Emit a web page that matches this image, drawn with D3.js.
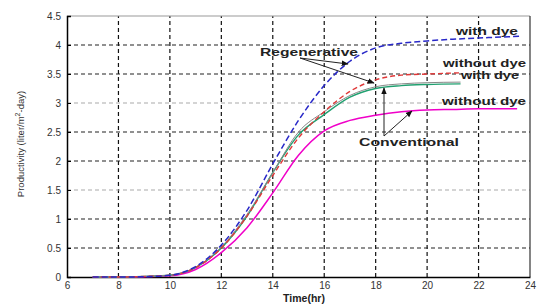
<!DOCTYPE html>
<html>
<head>
<meta charset="utf-8">
<script src="https://cdn.jsdelivr.net/npm/d3@7"></script>
<style>
  body { margin: 0; background: #fff; }
  svg text { font-family: "Liberation Sans", Arial, sans-serif; }
  .tick text { fill: #333; font-size: 10px; }
  .lbl { font-weight: bold; fill: #222; font-size: 11px; }
</style>
</head>
<body>
<div id="chart"></div>
<script>
// data
const xTicks = [6, 8, 10, 12, 14, 16, 18, 20, 22, 24]
const yTicks = [0, 0.5, 1, 1.5, 2, 2.5, 3, 3.5, 4, 4.5]

const regenDyeT = [7, 8, 9, 10, 11, 12, 13, 14, 15, 16, 17, 18, 19, 20, 21, 22, 23, 23.6]
const regenDye = [0, 0, 0.005, 0.03, 0.18, 0.55, 1.15, 1.95, 2.7, 3.3, 3.72, 3.95, 4.03, 4.07, 4.1, 4.12, 4.14, 4.15]

const regenNoDyeT = [7, 8, 9, 10, 11, 12, 13, 14, 15, 16, 17, 18, 19, 20, 21.3]
const regenNoDye = [0, 0, 0.01, 0.03, 0.16, 0.5, 1.05, 1.75, 2.4, 2.85, 3.2, 3.4, 3.48, 3.5, 3.52]

const convDyeT = [7, 8, 9, 10, 11, 12, 13, 14, 15, 16, 17, 18, 19, 20, 21.3]
const convDye = [0, 0, 0.01, 0.03, 0.16, 0.5, 1.05, 1.8, 2.45, 2.8, 3.1, 3.25, 3.3, 3.32, 3.33]
const convDyeGray = [0, 0, 0.01, 0.03, 0.17, 0.52, 1.08, 1.8, 2.5, 2.85, 3.13, 3.28, 3.33, 3.35, 3.36]

const convNoDyeT = [7, 8, 9, 10, 11, 12, 13, 14, 15, 16, 17, 18, 19, 20, 21, 22, 23, 23.5]
const convNoDye = [0, 0, 0.005, 0.02, 0.13, 0.42, 0.85, 1.45, 2.1, 2.52, 2.7, 2.79, 2.85, 2.88, 2.89, 2.9, 2.9, 2.9]

const W = 539, H = 304
const m = { left: 67, right: 9, top: 16, bottom: 27 }

const svg = d3.select('#chart').append('svg').attr('width', W).attr('height', H)

const x = d3.scaleLinear().domain([6, 24]).range([m.left, W - m.right])
const y = d3.scaleLinear().domain([0, 4.5]).range([H - m.bottom, m.top])

// grid
const grid = svg.append('g')
grid.selectAll('line.v').data(xTicks.slice(1, -1)).join('line')
  .attr('x1', d => x(d)).attr('x2', d => x(d))
  .attr('y1', y(0)).attr('y2', y(4.5))
  .attr('stroke', '#111').attr('stroke-width', 1.2).attr('stroke-dasharray', '4,3')
grid.selectAll('line.h').data(yTicks.slice(1, -1)).join('line')
  .attr('x1', x(6)).attr('x2', x(24))
  .attr('y1', d => y(d)).attr('y2', d => y(d))
  .attr('stroke', d => (d === 1.5 || d === 3) ? '#aaa' : '#222')
  .attr('stroke-width', 1.2).attr('stroke-dasharray', '4,3')

// frame
svg.append('line').attr('x1', x(6)).attr('x2', x(24)).attr('y1', y(4.5)).attr('y2', y(4.5))
  .attr('stroke', '#999').attr('stroke-width', 1.2)
svg.append('line').attr('x1', x(24)).attr('x2', x(24)).attr('y1', y(0)).attr('y2', y(4.5))
  .attr('stroke', '#333').attr('stroke-width', 1.2)

const xAxis = svg.append('g').attr('transform', `translate(0,${y(0)})`)
  .call(d3.axisBottom(x).tickValues(xTicks).tickSize(0).tickPadding(5).tickFormat(d3.format('d')))
const yAxis = svg.append('g').attr('transform', `translate(${x(6)},0)`)
  .call(d3.axisLeft(y).tickValues(yTicks).tickSize(-4).tickPadding(6).tickFormat(d => d))
xAxis.select('.domain').attr('stroke', '#000').attr('stroke-width', 1.5)
yAxis.select('.domain').attr('stroke', '#000').attr('stroke-width', 1.5)
yAxis.selectAll('.tick line').attr('stroke', '#000')

// curves
const line = d3.line().x(d => x(d[0])).y(d => y(d[1])).curve(d3.curveMonotoneX)
const series = [
  { t: convNoDyeT, v: convNoDye, color: '#f000c8', dash: null, w: 1.5 },
  { t: convDyeT, v: convDye, color: '#20a070', dash: null, w: 1.4 },
  { t: convDyeT, v: convDyeGray, color: '#888', dash: null, w: 1 },
  { t: regenNoDyeT, v: regenNoDye, color: '#e03838', dash: '5,3', w: 1.4 },
  { t: regenDyeT, v: regenDye, color: '#2828c8', dash: '6,3', w: 1.5 }
]
svg.append('g').selectAll('path').data(series).join('path')
  .attr('d', s => line(d3.zip(s.t, s.v)))
  .attr('fill', 'none')
  .attr('stroke', s => s.color)
  .attr('stroke-width', s => s.w)
  .attr('stroke-dasharray', s => s.dash)

// arrows
const defs = svg.append('defs')
defs.append('marker').attr('id', 'ah').attr('viewBox', '0 0 10 10')
  .attr('refX', 9).attr('refY', 5).attr('markerWidth', 7).attr('markerHeight', 7)
  .attr('orient', 'auto-start-reverse')
  .append('path').attr('d', 'M0,1 L10,5 L0,9 Z').attr('fill', '#111')

const arrows = [
  [300, 58, 348, 64],
  [300, 58, 374, 83],
  [384, 136, 384, 88],
  [384, 136, 412, 111]
]
svg.append('g').selectAll('line').data(arrows).join('line')
  .attr('x1', d => d[0]).attr('y1', d => d[1]).attr('x2', d => d[2]).attr('y2', d => d[3])
  .attr('stroke', '#222').attr('stroke-width', 1).attr('marker-end', 'url(#ah)')

// annotations
const notes = [
  ['Regenerative', 260, 56, 98],
  ['Conventional', 359, 146, 100],
  ['with dye', 456, 35, 62],
  ['without dye', 443, 67, 83],
  ['with dye', 461, 79, 58],
  ['without dye', 442, 105, 84]
]
svg.append('g').selectAll('text').data(notes).join('text')
  .attr('class', 'lbl')
  .attr('x', d => d[1]).attr('y', d => d[2])
  .attr('textLength', d => d[3]).attr('lengthAdjust', 'spacingAndGlyphs')
  .text(d => d[0])

// axis titles
svg.append('text').attr('class', 'lbl')
  .attr('x', 304).attr('y', 302).attr('text-anchor', 'middle')
  .style('font-size', '10.5px')
  .text('Time(hr)')

const yl = svg.append('text')
  .attr('transform', `translate(24,${144}) rotate(-90)`)
  .attr('text-anchor', 'middle')
  .style('font-size', '9.5px').style('fill', '#333')
yl.append('tspan').text('Productivity (liter/m')
yl.append('tspan').attr('dy', -4).style('font-size', '7px').text('2')
yl.append('tspan').attr('dy', 4).text('-day)')
</script>
</body>
</html>
